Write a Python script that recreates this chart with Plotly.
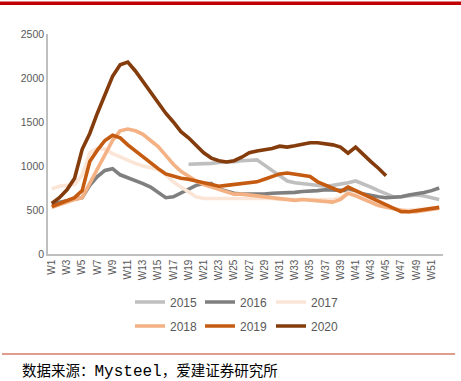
import plotly.graph_objects as go

weeks = [f"W{i}" for i in range(1, 53)]

y2015_weeks = [f"W{i}" for i in range(19, 53)]
y2015 = [1020, 1020, 1030, 1030, 1040, 1040, 1050, 1060, 1070, 1070, 1010, 950, 880, 830, 810, 800, 790,
         780, 770, 780, 790, 810, 830, 800, 760, 720, 680, 650, 650, 660, 670, 660, 640, 620]

y2016 = [570, 590, 610, 620, 640, 780, 880, 950, 970, 900, 870, 840, 800, 760, 700, 640, 650, 690, 730, 780,
         800, 800, 740, 710, 690, 680, 680, 670, 680, 690, 690, 700, 700, 710, 710, 720, 730, 730, 730, 720,
         700, 680, 660, 650, 640, 640, 650, 670, 680, 700, 720, 750]

y2017 = [740, 770, 780, 790, 900, 1150, 1200, 1190, 1140, 1100, 1060, 1030, 1000, 980, 960, 900, 820, 760, 700, 650,
         630, 630, 640, 640, 640, 630, 640, 640, 630, 630, 620, 620, 620, 610, 610, 620, 620, 620, 640, 700,
         680, 650, 620, 580, 540, 520, 500, 500, 500, 510, 520, 530]

y2018 = [530, 560, 600, 620, 640, 800, 950, 1120, 1290, 1400, 1420, 1400, 1360, 1290, 1220, 1120, 1020, 940, 880, 830,
         790, 760, 730, 700, 680, 680, 670, 650, 640, 630, 630, 620, 610, 620, 610, 610, 600, 590, 620, 690,
         660, 620, 580, 550, 530, 510, 490, 480, 480, 490, 500, 520]

y2019 = [540, 570, 600, 640, 720, 1050, 1180, 1290, 1350, 1320, 1240, 1170, 1110, 1040, 970, 910, 880, 860, 850, 830,
         800, 780, 770, 780, 790, 790, 800, 820, 850, 880, 910, 920, 910, 900, 880, 820, 780, 750, 710, 760,
         720, 680, 640, 600, 550, 510, 480, 480, 490, 500, 510, 530]

y2020 = [575, 640, 730, 860, 1190, 1370, 1600, 1800, 2020, 2150, 2180, 2080, 1960, 1850, 1730, 1600, 1500, 1390, 1320, 1230,
         1150, 1090, 1060, 1045, 1060, 1100, 1150, 1170, 1180, 1200, 1225, 1215, 1230, 1250, 1265, 1265, 1255, 1240, 1215, 1145,
         1215, 1130, 1050, 975, 890]

series = [
    ("2015", y2015_weeks, y2015, "#BFBFBF"),
    ("2016", weeks, y2016, "#7F7F7F"),
    ("2017", weeks, y2017, "#FBE5D6"),
    ("2018", weeks, y2018, "#F4B183"),
    ("2019", weeks, y2019, "#C55A11"),
    ("2020", weeks[:len(y2020)], y2020, "#843C0C"),
]

# plot area in pixels
L, R, T, B = 48, 443, 34, 254
W, H = R - L, B - T


def px(x):
    return (x - L) / W


def py(y):
    return (B - y) / H


fig = go.Figure()
legend_ids = ["legend", "legend2", "legend3", "legend4", "legend5", "legend6"]
for (name, xs, ys, color), lg in zip(series, legend_ids):
    fig.add_trace(go.Scatter(x=xs, y=ys, name=name, mode="lines",
                             line=dict(color=color, width=3.6), legend=lg))

legfont = dict(family="Liberation Sans, Arial, sans-serif", size=12, color="#595959")
leg_pos = [(135, 302), (205, 302), (276, 302), (135, 326), (205, 326), (276, 326)]
legends = {}
for lg, (lx, ly) in zip(legend_ids, leg_pos):
    legends[lg] = dict(orientation="h", x=px(lx - 5), xanchor="left", y=py(ly), yanchor="middle",
                       font=legfont, bgcolor="rgba(0,0,0,0)", borderwidth=0, itemwidth=30)

fig.update_layout(
    width=461, height=381,
    margin=dict(l=L, r=461 - R, t=T, b=381 - B, autoexpand=False),
    paper_bgcolor="white", plot_bgcolor="white",
    showlegend=True,
    xaxis=dict(type="category", categoryorder="array", categoryarray=weeks,
               tickmode="array", tickvals=weeks[::2], ticktext=weeks[::2],
               tickangle=-90, tickfont=dict(family="Liberation Sans, Arial, sans-serif", size=10, color="#595959"),
               showgrid=False, zeroline=False, showline=True, linecolor="#BFBFBF", linewidth=1.5,
               ticks="", range=[-0.5, 51.5], automargin=False),
    yaxis=dict(range=[0, 2500], dtick=500,
               tickfont=dict(family="Liberation Sans, Arial, sans-serif", size=10.5, color="#595959"),
               showgrid=False, zeroline=False, showline=True, linecolor="#BFBFBF", linewidth=1.5,
               ticks="", automargin=False),
    shapes=[
        dict(type="rect", xref="paper", yref="paper", x0=px(-5), x1=px(470),
             y0=py(5), y1=py(1.5), fillcolor="#C00000", line=dict(width=0)),
        dict(type="line", xref="paper", yref="paper", x0=px(2), x1=px(455),
             y0=py(354), y1=py(354), line=dict(color="#C0391B", width=1)),
    ],
    annotations=[
        dict(xref="paper", yref="paper", x=px(20), y=py(370), xanchor="left", yanchor="middle",
             showarrow=False,
             text='数据来源：<span style="font-family:Liberation Mono;font-size:16px">Mysteel</span>，爱建证券研究所',
             font=dict(family="Noto Sans CJK SC", size=14.5, color="#000000")),
    ],
    **legends,
)

fig.write_html("out.html", config={"displayModeBar": False},
               post_script="document.body.style.margin='0';document.body.style.padding='0';")
